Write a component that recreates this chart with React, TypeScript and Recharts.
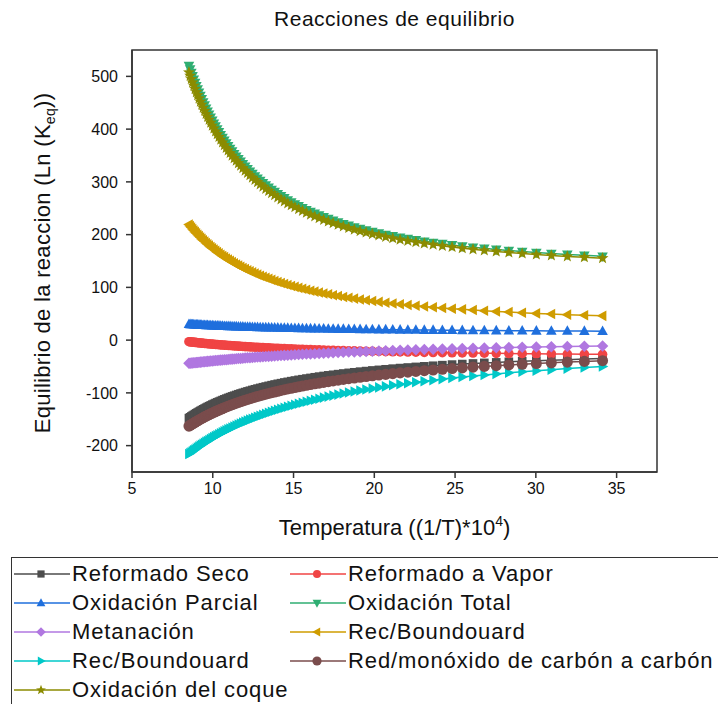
import React from "react";
import { LineChart, Line, XAxis, YAxis, ReferenceArea } from "recharts";

const xValues = [8.525,8.598,8.673,8.749,8.826,8.905,8.985,9.066,9.149,9.234,
9.320,9.407,9.497,9.588,9.681,9.775,9.872,9.970,10.070,10.173,
10.277,10.384,10.493,10.604,10.718,10.834,10.953,11.074,11.198,11.325,
11.455,11.587,11.723,11.862,12.005,12.151,12.300,12.453,12.610,12.771,
12.937,13.106,13.280,13.459,13.643,13.831,14.025,14.225,14.430,14.641,
14.859,15.083,15.314,15.552,15.798,16.051,16.313,16.584,16.863,17.153,
17.452,17.762,18.083,18.416,18.762,19.120,19.493,19.881,20.284,20.704,
21.142,21.598,22.075,22.573,23.095,23.641,24.213,24.814,25.445,26.110,
26.810,27.548,28.329,29.155,30.030,30.960,31.949,33.003,34.130];

const reformadoSeco = [-147.9,-146.4,-144.8,-143.3,-141.8,-140.2,-138.7,-137.2,-135.7,-134.2,
-132.7,-131.2,-129.7,-128.2,-126.7,-125.3,-123.8,-122.3,-120.9,-119.4,
-118.0,-116.6,-115.2,-113.7,-112.3,-110.9,-109.5,-108.1,-106.7,-105.4,
-104.0,-102.6,-101.2,-99.9,-98.5,-97.2,-95.9,-94.5,-93.2,-91.9,
-90.6,-89.3,-88.0,-86.7,-85.4,-84.1,-82.8,-81.6,-80.3,-79.1,
-77.8,-76.6,-75.3,-74.1,-72.9,-71.7,-70.4,-69.2,-68.0,-66.8,
-65.7,-64.5,-63.3,-62.1,-61.0,-59.8,-58.7,-57.5,-56.4,-55.3,
-54.1,-53.0,-51.9,-50.8,-49.7,-48.6,-47.5,-46.4,-45.4,-44.3,
-43.2,-42.2,-41.1,-40.1,-39.0,-38.0,-37.0,-36.0,-35.0];

const reformadoVapor = [-3.0,-3.3,-3.5,-3.8,-4.1,-4.3,-4.6,-4.9,-5.2,-5.4,
-5.7,-6.0,-6.3,-6.5,-6.8,-7.1,-7.3,-7.6,-7.9,-8.2,
-8.4,-8.7,-9.0,-9.3,-9.5,-9.8,-10.1,-10.3,-10.6,-10.9,
-11.2,-11.4,-11.7,-12.0,-12.3,-12.5,-12.8,-13.1,-13.4,-13.6,
-13.9,-14.2,-14.4,-14.7,-15.0,-15.3,-15.5,-15.8,-16.1,-16.4,
-16.6,-16.9,-17.2,-17.4,-17.7,-18.0,-18.3,-18.5,-18.8,-19.1,
-19.4,-19.6,-19.9,-20.2,-20.4,-20.7,-21.0,-21.3,-21.5,-21.8,
-22.1,-22.4,-22.6,-22.9,-23.2,-23.5,-23.7,-24.0,-24.3,-24.5,
-24.8,-25.1,-25.4,-25.6,-25.9,-26.2,-26.5,-26.7,-27.0];

const oxidacionParcial = [30.1,29.9,29.8,29.6,29.5,29.3,29.2,29.0,28.9,28.7,
28.6,28.4,28.3,28.1,28.0,27.8,27.7,27.5,27.4,27.3,
27.1,27.0,26.8,26.7,26.5,26.4,26.2,26.1,25.9,25.8,
25.6,25.5,25.3,25.2,25.0,24.9,24.7,24.6,24.4,24.3,
24.1,24.0,23.8,23.7,23.6,23.4,23.3,23.1,23.0,22.8,
22.7,22.5,22.4,22.2,22.1,21.9,21.8,21.6,21.5,21.3,
21.2,21.0,20.9,20.7,20.6,20.4,20.3,20.1,20.0,19.9,
19.7,19.6,19.4,19.3,19.1,19.0,18.8,18.7,18.5,18.4,
18.2,18.1,17.9,17.8,17.6,17.5,17.3,17.2,17.0];

const oxidacionTotal = [520.3,513.7,507.2,500.8,494.4,488.1,481.9,475.7,469.5,463.4,
457.4,451.4,445.5,439.6,433.8,428.0,422.3,416.7,411.1,405.6,
400.1,394.7,389.3,384.0,378.7,373.5,368.4,363.3,358.3,353.3,
348.4,343.5,338.7,334.0,329.3,324.7,320.1,315.5,311.1,306.7,
302.3,298.0,293.8,289.6,285.4,281.4,277.3,273.4,269.5,265.6,
261.8,258.1,254.4,250.8,247.2,243.7,240.2,236.8,233.5,230.2,
226.9,223.8,220.6,217.6,214.5,211.6,208.7,205.8,203.1,200.3,
197.6,195.0,192.5,190.0,187.5,185.1,182.8,180.5,178.2,176.1,
174.0,171.9,169.9,167.9,166.0,164.2,162.4,160.7,159.0];

const metanacion = [-44.0,-43.8,-43.5,-43.3,-43.0,-42.7,-42.5,-42.2,-42.0,-41.7,
-41.4,-41.2,-40.9,-40.6,-40.3,-40.0,-39.7,-39.4,-39.1,-38.8,
-38.5,-38.2,-37.9,-37.6,-37.3,-37.0,-36.7,-36.3,-36.0,-35.7,
-35.4,-35.0,-34.7,-34.3,-34.0,-33.6,-33.3,-32.9,-32.6,-32.2,
-31.9,-31.5,-31.1,-30.8,-30.4,-30.0,-29.6,-29.3,-28.9,-28.5,
-28.1,-27.7,-27.3,-26.9,-26.5,-26.1,-25.7,-25.3,-24.9,-24.4,
-24.0,-23.6,-23.2,-22.7,-22.3,-21.9,-21.4,-21.0,-20.5,-20.1,
-19.6,-19.2,-18.7,-18.3,-17.8,-17.3,-16.9,-16.4,-15.9,-15.4,
-15.0,-14.5,-14.0,-13.5,-13.0,-12.5,-12.0,-11.5,-11.0];

const recBoundouardA = [219.0,216.2,213.4,210.7,207.9,205.2,202.5,199.9,197.2,194.6,
191.9,189.3,186.8,184.2,181.7,179.1,176.6,174.1,171.7,169.2,
166.8,164.4,162.0,159.6,157.3,154.9,152.6,150.3,148.1,145.8,
143.5,141.3,139.1,136.9,134.8,132.6,130.5,128.4,126.3,124.2,
122.2,120.2,118.1,116.2,114.2,112.2,110.3,108.4,106.5,104.6,
102.7,100.9,99.1,97.3,95.5,93.7,92.0,90.2,88.5,86.8,
85.2,83.5,81.9,80.3,78.7,77.1,75.5,74.0,72.5,71.0,
69.5,68.0,66.6,65.1,63.7,62.4,61.0,59.6,58.3,57.0,
55.7,54.4,53.2,51.9,50.7,49.5,48.3,47.2,46.0];

const recBoundouardB = [-216.0,-214.2,-212.5,-210.7,-208.9,-207.2,-205.4,-203.6,-201.8,-200.0,
-198.2,-196.5,-194.7,-192.9,-191.1,-189.3,-187.5,-185.6,-183.8,-182.0,
-180.2,-178.4,-176.6,-174.7,-172.9,-171.1,-169.2,-167.4,-165.6,-163.7,
-161.9,-160.0,-158.2,-156.3,-154.5,-152.6,-150.7,-148.9,-147.0,-145.1,
-143.3,-141.4,-139.5,-137.6,-135.7,-133.8,-132.0,-130.1,-128.2,-126.3,
-124.4,-122.5,-120.5,-118.6,-116.7,-114.8,-112.9,-111.0,-109.0,-107.1,
-105.2,-103.3,-101.3,-99.4,-97.4,-95.5,-93.5,-91.6,-89.6,-87.7,
-85.7,-83.8,-81.8,-79.8,-77.9,-75.9,-73.9,-71.9,-69.9,-68.0,
-66.0,-64.0,-62.0,-60.0,-58.0,-56.0,-54.0,-52.0,-50.0];

const redMonoxido = [-163.0,-161.6,-160.1,-158.6,-157.2,-155.7,-154.2,-152.8,-151.3,-149.9,
-148.4,-146.9,-145.5,-144.0,-142.6,-141.1,-139.7,-138.2,-136.8,-135.3,
-133.9,-132.5,-131.0,-129.6,-128.1,-126.7,-125.3,-123.8,-122.4,-121.0,
-119.5,-118.1,-116.7,-115.3,-113.8,-112.4,-111.0,-109.6,-108.2,-106.7,
-105.3,-103.9,-102.5,-101.1,-99.7,-98.3,-96.9,-95.4,-94.0,-92.6,
-91.2,-89.8,-88.4,-87.0,-85.6,-84.2,-82.9,-81.5,-80.1,-78.7,
-77.3,-75.9,-74.5,-73.1,-71.8,-70.4,-69.0,-67.6,-66.2,-64.9,
-63.5,-62.1,-60.8,-59.4,-58.0,-56.6,-55.3,-53.9,-52.6,-51.2,
-49.8,-48.5,-47.1,-45.8,-44.4,-43.1,-41.7,-40.3,-39.0];

const oxidacionCoque = [507.7,501.2,494.9,488.7,482.4,476.3,470.2,464.2,458.1,452.2,
446.3,440.5,434.7,429.0,423.3,417.7,412.1,406.7,401.2,395.8,
390.5,385.2,379.9,374.8,369.6,364.5,359.6,354.6,349.7,344.8,
340.1,335.3,330.6,326.0,321.4,317.0,312.5,308.0,303.7,299.4,
295.1,290.9,286.8,282.7,278.6,274.7,270.7,266.9,263.1,259.3,
255.6,252.0,248.4,244.9,241.4,238.0,234.6,231.3,228.0,224.8,
221.6,218.6,215.5,212.5,209.5,206.7,203.9,201.0,198.4,195.7,
193.0,190.5,188.1,185.6,183.2,180.9,178.6,176.4,174.1,172.1,
170.0,168.0,166.0,164.1,162.2,160.5,158.7,157.1,155.4];

const xTicks = [5, 10, 15, 20, 25, 30, 35];
const yTicks = [-200, -100, 0, 100, 200, 300, 400, 500];

const seriesDefs = [
  { key: "s0", name: "Reformado Seco", values: reformadoSeco, color: "#4d4d4d", shape: "square" },
  { key: "s1", name: "Reformado a Vapor", values: reformadoVapor, color: "#f04444", shape: "circle" },
  { key: "s2", name: "Oxidación Parcial", values: oxidacionParcial, color: "#1f6fdd", shape: "up" },
  { key: "s3", name: "Oxidación Total", values: oxidacionTotal, color: "#2fae72", shape: "down" },
  { key: "s4", name: "Metanación", values: metanacion, color: "#b077e0", shape: "diamond" },
  { key: "s5", name: "Rec/Boundouard", values: recBoundouardA, color: "#cf9c00", shape: "left" },
  { key: "s6", name: "Rec/Boundouard", values: recBoundouardB, color: "#00c8c8", shape: "right" },
  { key: "s7", name: "Red/monóxido de carbón a carbón", values: redMonoxido, color: "#7a4c4c", shape: "hex" },
  { key: "s8", name: "Oxidación del coque", values: oxidacionCoque, color: "#8b8b00", shape: "star" },
];

const data = xValues.map((x, i) => {
  const row: any = { x };
  seriesDefs.forEach((s) => { row[s.key] = s.values[i]; });
  return row;
});

const FONT = "'Liberation Sans', Arial, sans-serif";

function marker(shape: string, cx: number, cy: number, color: string, s: number, key?: any) {
  const p = (pts: number[][]) => pts.map((q) => `${cx + q[0] * s},${cy + q[1] * s}`).join(" ");
  switch (shape) {
    case "square":
      return <rect key={key} x={cx - 0.9 * s} y={cy - 0.9 * s} width={1.8 * s} height={1.8 * s} fill={color} />;
    case "circle":
      return <circle key={key} cx={cx} cy={cy} r={s} fill={color} />;
    case "hex":
      return <circle key={key} cx={cx} cy={cy} r={1.15 * s} fill={color} />;
    case "up":
      return <polygon key={key} points={p([[0, -1.2], [1.1, 0.8], [-1.1, 0.8]])} fill={color} />;
    case "down":
      return <polygon key={key} points={p([[-1.1, -0.8], [1.1, -0.8], [0, 1.2]])} fill={color} />;
    case "left":
      return <polygon key={key} points={p([[-1.2, 0], [0.8, -1.1], [0.8, 1.1]])} fill={color} />;
    case "right":
      return <polygon key={key} points={p([[1.2, 0], [-0.8, -1.1], [-0.8, 1.1]])} fill={color} />;
    case "diamond":
      return <polygon key={key} points={p([[0, -1.2], [1.2, 0], [0, 1.2], [-1.2, 0]])} fill={color} />;
    case "star": {
      const pts: number[][] = [];
      for (let k = 0; k < 10; k++) {
        const r = k % 2 === 0 ? 1.3 : 0.55;
        const a = -Math.PI / 2 + (k * Math.PI) / 5;
        pts.push([r * Math.cos(a), r * Math.sin(a)]);
      }
      return <polygon key={key} points={p(pts)} fill={color} />;
    }
    default:
      return <circle key={key} cx={cx} cy={cy} r={s} fill={color} />;
  }
}

const legendRows = [
  [0, 1],
  [2, 3],
  [4, 5],
  [6, 7],
  [8],
];
const legendRowY = [574, 603, 632, 661, 690];
const legendColX = [14, 290];

export default function App() {
  return (
    <div style={{ position: "absolute", left: 0, top: 0, width: 718, height: 704, background: "#fff", overflow: "hidden", fontFamily: FONT }}>
      <div style={{ position: "absolute", left: 132, top: 7, width: 525, textAlign: "center", fontSize: 21, letterSpacing: 0.5, color: "#111" }}>
        Reacciones de equilibrio
      </div>
      <LineChart
        width={718}
        height={560}
        data={data}
        margin={{ top: 50, right: 61, left: 72, bottom: 48 }}
      >
        <XAxis
          dataKey="x"
          type="number"
          domain={[5, 37.5]}
          ticks={xTicks}
          allowDataOverflow
          height={40}
          tickSize={6}
          tickMargin={5}
          stroke="#333"
          strokeWidth={1.5}
          tick={{ fill: "#111", fontSize: 16, fontFamily: FONT }}
          label={(props: any) => {
            const vb = props.viewBox || { x: 132, width: 525 };
            const cx = vb.x + vb.width / 2;
            return (
              <text x={cx} y={535} textAnchor="middle" fontSize={22} fontFamily={FONT} fill="#111">
                Temperatura ((1/T)*10
                <tspan dy={-9} fontSize={14}>4</tspan>
                <tspan dy={9}>)</tspan>
              </text>
            );
          }}
        />
        <YAxis
          type="number"
          domain={[-250, 550]}
          ticks={yTicks}
          allowDataOverflow
          width={60}
          tickSize={6}
          tickMargin={8}
          stroke="#333"
          strokeWidth={1.5}
          tick={{ fill: "#111", fontSize: 16, fontFamily: FONT }}
          label={(props: any) => {
            const cy = 263;
            const cx = 50;
            return (
              <text x={cx} y={cy} textAnchor="middle" fontSize={22} letterSpacing={0.3} fontFamily={FONT} fill="#111" transform={`rotate(-90 ${cx} ${cy})`}>
                Equilibrio de la reaccion (Ln (K
                <tspan dy={5} fontSize={14}>eq</tspan>
                <tspan dy={-5}>))</tspan>
              </text>
            );
          }}
        />
        <ReferenceArea x1={5} x2={37.5} y1={-250} y2={550} fill="none" fillOpacity={0} stroke="#333" strokeWidth={1.5} ifOverflow="visible" />
        {seriesDefs.map((s) => (
          <Line
            key={s.key}
            dataKey={s.key}
            name={s.name}
            stroke={s.color}
            strokeWidth={1.5}
            isAnimationActive={false}
            dot={(props: any) => marker(s.shape, props.cx, props.cy, s.color, 4.8, `${s.key}-${props.index}`)}
            activeDot={false}
          />
        ))}
      </LineChart>
      <div style={{ position: "absolute", left: 11, top: 557, width: 730, height: 160, border: "1px solid #333", boxSizing: "border-box" }} />
      {legendRows.map((row, ri) =>
        row.map((si, ci) => {
          const s = seriesDefs[si];
          return (
            <div key={`${ri}-${ci}`} style={{ position: "absolute", left: legendColX[ci], top: legendRowY[ri] - 13, height: 26, display: "flex", alignItems: "center", whiteSpace: "nowrap" }}>
              <svg width={56} height={26}>
                <line x1={0} y1={13} x2={56} y2={13} stroke={s.color} strokeWidth={1.5} />
                {marker(s.shape, 27, 13, s.color, 4)}
              </svg>
              <span style={{ marginLeft: 2, fontSize: 22, color: "#111", letterSpacing: 0.9 }}>{s.name}</span>
            </div>
          );
        })
      )}
    </div>
  );
}
